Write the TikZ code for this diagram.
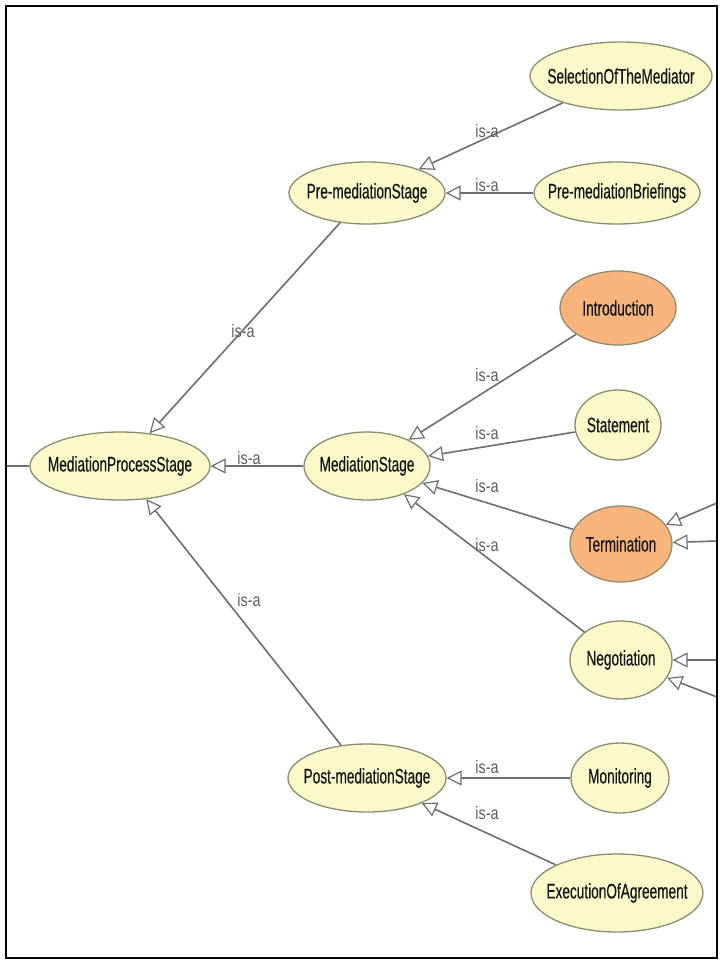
\documentclass[tikz,border=0pt]{standalone}
\usepackage{fontspec}
\newfontfamily\owlfont{Liberation Sans}[FakeStretch=0.65,FakeBold=0.3]
\newfontfamily\owllabfont{Liberation Sans}[FakeStretch=0.8]
\usetikzlibrary{shapes.geometric,arrows.meta}
\definecolor{clsfill}{HTML}{FBF9C9}
\definecolor{clsborder}{HTML}{8C8C70}
\definecolor{hlfill}{HTML}{F7B57C}
\definecolor{edgegray}{HTML}{6E6E72}
\definecolor{labgray}{HTML}{5E5E5E}
\newcommand{\cltext}[1]{\makebox[0pt]{#1}}
\begin{document}
\begin{tikzpicture}[x=1pt,y=-1pt,
  cls/.style={ellipse, draw=clsborder, line width=1.3pt, fill=clsfill, inner sep=0pt,
    font=\owlfont\fontsize{21}{23}\selectfont, text=black!92},
  hlcls/.style={cls, fill=hlfill},
  isa/.style={draw=edgegray, line width=1.6pt,
    -{Triangle[open, length=15pt, width=15pt, line width=1.2pt]}},
  plain/.style={draw=edgegray, line width=1.6pt},
  isalabel/.style={font=\owllabfont\fontsize{18}{20}\selectfont, text=labgray, inner sep=0pt}]
\fill[white] (0,0) rectangle (728,972);
\useasboundingbox (0,0) rectangle (728,972);

% classes
\node[cls, minimum width=182, minimum height=68] (sel) at (621,76) {\cltext{SelectionOfTheMediator}};
\node[cls, minimum width=156, minimum height=62] (pre) at (367,193) {\cltext{Pre-mediationStage}};
\node[cls, minimum width=166, minimum height=62] (brief) at (617,193) {\cltext{Pre-mediationBriefings}};
\node[hlcls, minimum width=116, minimum height=74] (intro) at (618,308) {\cltext{Introduction}};
\node[cls, minimum width=86, minimum height=70] (stmt) at (618,425) {\cltext{Statement}};
\node[cls, minimum width=180, minimum height=68] (mps) at (120,466) {\cltext{MediationProcessStage}};
\node[cls, minimum width=126, minimum height=68] (ms) at (367,466) {\cltext{MediationStage}};
\node[hlcls, minimum width=102, minimum height=76] (term) at (621,544) {\cltext{Termination}};
\node[cls, minimum width=102, minimum height=78] (neg) at (621,660) {\cltext{Negotiation}};
\node[cls, minimum width=158, minimum height=68] (post) at (367,778) {\cltext{Post-mediationStage}};
\node[cls, minimum width=98, minimum height=70] (mon) at (620,778) {\cltext{Monitoring}};
\node[cls, minimum width=172, minimum height=78] (exec) at (617,893) {\cltext{ExecutionOfAgreement}};

% free ends
\coordinate (leftend) at (6,466);
\coordinate (t1) at (717,503);
\coordinate (t2) at (717,541);
\coordinate (n1) at (717,660);
\coordinate (n2) at (717,697);

% edges
\draw[isa] (pre) -- (mps);
\draw[isa] (ms) -- (mps);
\draw[isa] (post) -- (mps);
\draw[isa] (sel) -- (pre);
\draw[isa] (brief) -- (pre);
\draw[isa] (intro) -- (ms);
\draw[isa] (stmt) -- (ms);
\draw[isa] (term) -- (ms);
\draw[isa] (neg) -- (ms);
\draw[isa] (mon) -- (post);
\draw[isa] (exec) -- (post);
\draw[plain] (leftend) -- (mps);
\draw[isa] (t1) -- (term);
\draw[isa] (t2) -- (term);
\draw[isa] (n1) -- (neg);
\draw[isa] (n2) -- (neg);

% labels
\node[isalabel] (l1) at (243,331) {is-a};
\node[isalabel] (l2) at (249,458) {is-a};
\node[isalabel] (l3) at (249,600) {is-a};
\node[isalabel] (l4) at (487,131) {is-a};
\node[isalabel] (l5) at (487,185) {is-a};
\node[isalabel] (l6) at (487,375) {is-a};
\node[isalabel] (l7) at (487,433) {is-a};
\node[isalabel] (l8) at (487,486) {is-a};
\node[isalabel] (l9) at (487,545) {is-a};
\node[isalabel] (l10) at (487,767) {is-a};
\node[isalabel] (l11) at (487,813) {is-a};

% frame
\draw[line width=2pt, black] (6,6) rectangle (717,958);
\end{tikzpicture}
\end{document}
